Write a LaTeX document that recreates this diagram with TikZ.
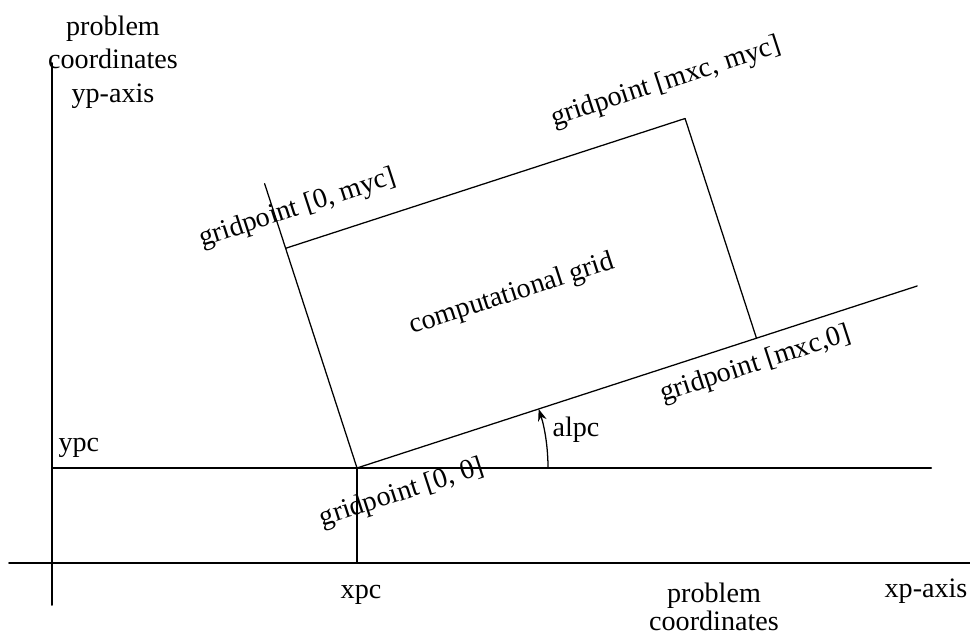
\documentclass[tikz,border=0pt]{standalone}
\usepackage{fontspec}
\setmainfont{Liberation Serif}
\usetikzlibrary{arrows.meta}
\tikzset{
    every picture/.style={line cap=round,line join=round},
    axisline/.style={draw=black,line width=0.7pt},
    gridline/.style={draw=black,line width=0.45pt},
    plainlabel/.style={inner sep=0pt,font=\normalsize,align=center},
    gridlabel/.style={plainlabel,rotate=18},
    anglearrow/.style={-{Stealth[length=1.5mm,width=1.1mm]},draw=black,
      line width=0.45pt}
}

\begin{document}
\begin{tikzpicture}[x=0.0125cm,y=0.0125cm]
  \useasboundingbox (0,0) rectangle (970,636);
  % problem coordinates
  \coordinate (xpleft) at (9,73);
  \coordinate (xpright) at (970,73);
  \coordinate (ypbot) at (52,31);
  \coordinate (yptop) at (52,573);
  \coordinate (ypcleft) at (52,168);
  \coordinate (ypcright) at (931,168);
  \coordinate (xpcbot) at (357,73);
  \draw[axisline] (xpleft)--(xpright);
  \draw[axisline] (ypbot)--(yptop);
  \draw[axisline] (ypcleft)--(ypcright);
  % computational grid, turned by alpc
  \begin{scope}[shift={(357,168)},rotate=18]
    \coordinate (g00) at (0,0);
    \coordinate (gm0) at (420,0);
    \coordinate (gmm) at (420,231);
    \coordinate (g0m) at (0,231);
    \coordinate (xcend) at (589,0);
    \coordinate (ycend) at (0,299);
    \draw[gridline] (g00)--(xcend);
    \draw[gridline] (g00)--(ycend);
    \draw[gridline] (g0m)--(gmm)--(gm0);
    \node[gridlabel] (lmm) at (413,271){gridpoint [mxc, myc]};
    \node[gridlabel] (l0m) at (24,265){gridpoint [0, myc]};
    \node[gridlabel] (lgrid) at (201,117){computational grid};
    \node[gridlabel] (lm0) at (411,-25){gridpoint [mxc,0]};
    \node[gridlabel] (l00) at (35,-38){gridpoint [0, 0]};
  \end{scope}
  \draw[gridline] (g00)--(xpcbot);
  \draw[anglearrow] (g00) ++(191,0) arc[start angle=0,end angle=18,radius=191];
  % labels
  \node[plainlabel,anchor=north] (ptop) at (113,621){problem\\coordinates\\yp-axis};
  \node[plainlabel,anchor=base west] (lypc) at (58,184){ypc};
  \node[plainlabel,anchor=base west] (lalpc) at (552,200){alpc};
  \node[plainlabel,anchor=base] (lxpc) at (361,38){xpc};
  \node[plainlabel,anchor=base] (lxp) at (926,39){xp-axis};
  \node[plainlabel,anchor=north] (pbot) at (714,54){problem\\[-2pt]coordinates};
\end{tikzpicture}
\end{document}
